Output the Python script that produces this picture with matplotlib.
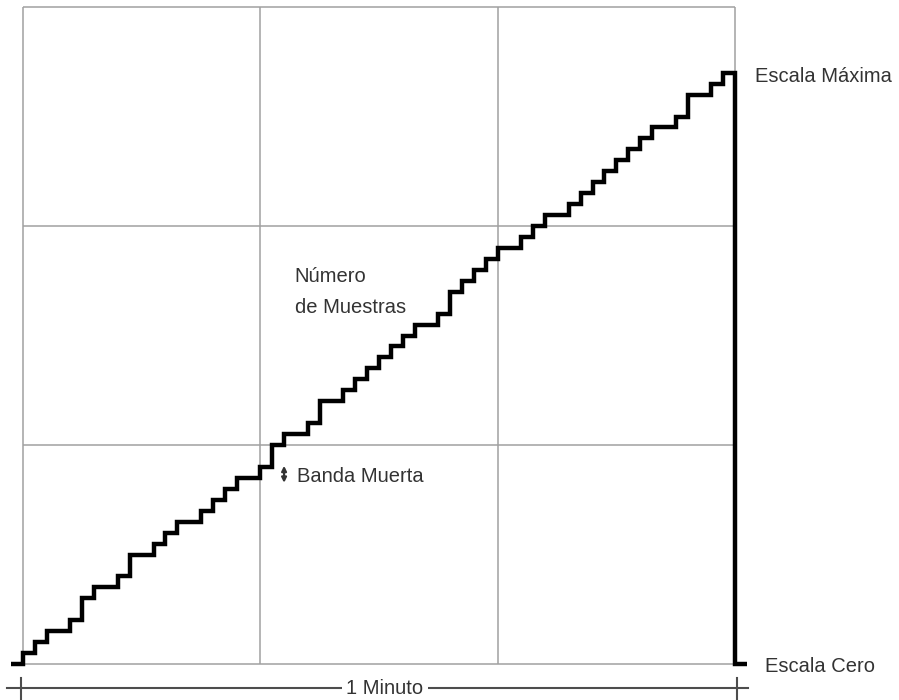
import matplotlib
matplotlib.use("Agg")
import matplotlib.pyplot as plt

plt.rcParams['font.family'] = ['Liberation Sans', 'DejaVu Sans']

# ── datos: una muestra por segundo, nivel en unidades de banda muerta ─────────
t_muestra = list(range(-1, 60))
nivel = [0, 1, 2, 3, 3, 4, 6, 7, 7, 8, 10, 10, 11, 12, 13, 13, 14, 15, 16, 17,
         17, 18, 20, 21, 21, 22, 24, 24, 25, 26, 27, 28, 29, 30, 31, 31, 32, 34,
         35, 36, 37, 38, 38, 39, 40, 41, 41, 42, 43, 44, 45, 46, 47, 48, 49, 49,
         50, 52, 52, 53, 54]
t_fin = 60          # fin del minuto
t_cero = 61.0       # tramo corto en escala cero
grid_x = [0, 20, 40, 60]
grid_y = [0, 20, 40, 60]
cota_x = [-0.2, 60.2]   # marcas de la cota "1 Minuto"
cota_y = -2.2

txt_col = '#333333'
fs = 14.5

fig = plt.figure(figsize=(8.99, 7.0), dpi=100)
ax = fig.add_axes([23/899, 36/700, 712/899, 657/700])
ax.set_xlim(0, 60)
ax.set_ylim(0, 60)
ax.axis('off')

# cuadricula
ax.vlines(grid_x, 0, 60, colors='#a0a0a0', lw=1.1, clip_on=False)
ax.hlines(grid_y, 0, 60, colors='#a0a0a0', lw=1.1, clip_on=False)

# escalera de muestras + caida a cero
xs = t_muestra + [t_fin, t_fin, t_cero]
ys = nivel + [nivel[-1], 0, 0]
ax.plot(xs, ys, drawstyle='steps-post', color='black', lw=3.2,
        solid_joinstyle='miter', solid_capstyle='butt', clip_on=False, zorder=3)

# cota inferior
ax.plot([-1.35, 61.1], [cota_y, cota_y], color='#4d4d4d', lw=1.5, clip_on=False)
for cx in cota_x:
    ax.plot([cx, cx], [-1.3, -3.2], color='#4d4d4d', lw=1.5, clip_on=False)
ax.text(30.5, cota_y, '1 Minuto', ha='center', va='center', fontsize=fs,
        color=txt_col, bbox=dict(facecolor='white', edgecolor='none', pad=3))

# etiquetas
ax.text(61.7, 53.15, 'Escala Máxima', fontsize=fs, color=txt_col, va='baseline')
ax.text(62.5, -0.75, 'Escala Cero', fontsize=fs, color=txt_col, va='baseline')
ax.text(22.9, 34.9, 'Número', fontsize=fs, color=txt_col, va='baseline')
ax.text(22.9, 32.1, 'de Muestras', fontsize=fs, color=txt_col, va='baseline')
ax.text(23.1, 16.6, 'Banda Muerta', fontsize=fs, color=txt_col, va='baseline')
ax.annotate('', xy=(22.0, 18.1), xytext=(22.0, 16.55),
            arrowprops=dict(arrowstyle='<|-|>', color=txt_col, lw=1.6,
                            mutation_scale=7, shrinkA=0, shrinkB=0))

fig.savefig('out.png', dpi=100)
